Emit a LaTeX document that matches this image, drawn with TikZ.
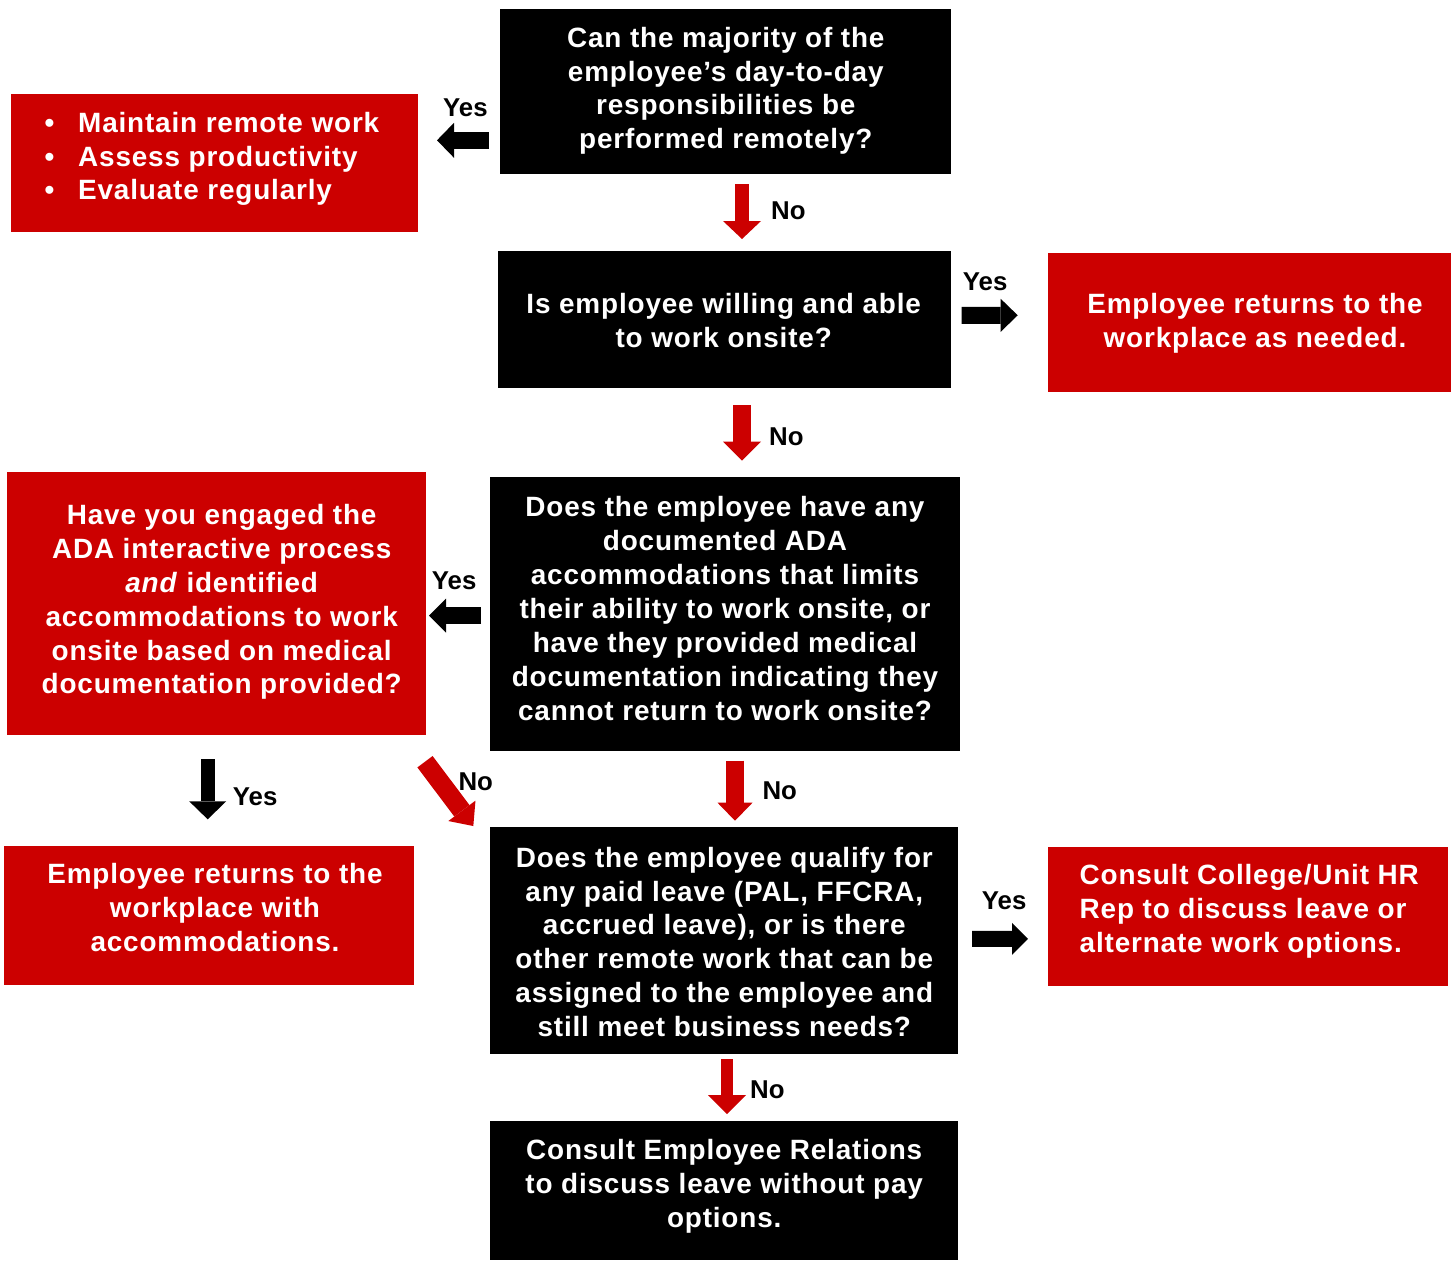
\documentclass[tikz,border=0pt]{standalone}
\usepackage{fontspec}
\setmainfont{Liberation Sans}
\newfontfamily\boxfont[LetterSpace=3.0]{Liberation Sans}
\usetikzlibrary{arrows.meta,calc}
\definecolor{ured}{RGB}{204,0,0}
\begin{document}
\begin{tikzpicture}[x=1pt,y=-1pt,
  redbox/.style={rectangle, fill=ured, draw=none, inner sep=0pt, outer sep=0pt},
  blackbox/.style={rectangle, fill=black, draw=none, inner sep=0pt, outer sep=0pt},
  boxtext/.style={text=white, inner sep=0pt, align=center, anchor=north,
    font=\boxfont\bfseries\fontsize{27.9}{33.9}\selectfont},
  lefttext/.style={boxtext, align=left, anchor=north west},
  lbl/.style={inner sep=0pt, anchor=base west, text=black,
    font=\bfseries\fontsize{25.8}{30}\selectfont},
  rarrow/.style n args={3}{color=ured, line width=#1,
    -{Triangle[width=#2,length=#3,line width=0pt]}},
  karrow/.style n args={3}{color=black, line width=#1,
    -{Triangle[width=#2,length=#3,line width=0pt]}}]
\useasboundingbox (0,0) rectangle (1453,1261);

% boxes
\node[blackbox, minimum width=451pt, minimum height=165.5pt] (A) at (725.5,91.25) {};
\node[redbox, minimum width=406.5pt, minimum height=137.5pt] (B) at (214.25,162.75) {};
\node[blackbox, minimum width=452.7pt, minimum height=137.3pt] (C) at (724.65,319.65) {};
\node[redbox, minimum width=403.3pt, minimum height=139pt] (D) at (1249.35,322.2) {};
\node[blackbox, minimum width=469.5pt, minimum height=273.7pt] (E) at (724.75,614.15) {};
\node[redbox, minimum width=419pt, minimum height=262.7pt] (F) at (216.5,603.65) {};
\node[redbox, minimum width=410pt, minimum height=139pt] (G) at (209,915.5) {};
\node[blackbox, minimum width=468.3pt, minimum height=227.3pt] (H) at (724.15,940.65) {};
\node[redbox, minimum width=399.8pt, minimum height=139pt] (I) at (1247.6,916.2) {};
\node[blackbox, minimum width=468.3pt, minimum height=139pt] (J) at (724.15,1190.5) {};

% box texts
\node[boxtext] (At) at (725.8,26.7) {Can the majority of the\\employee’s day-to-day\\responsibilities be\\performed remotely?};
\node[lefttext] (Bt) at (44.5,111.7) {\makebox[33.5pt][l]{•}Maintain remote work\\\makebox[33.5pt][l]{•}Assess productivity\\\makebox[33.5pt][l]{•}Evaluate regularly};
\node[boxtext] (Ct) at (723.7,293.3) {Is employee willing and able\\to work onsite?};
\node[boxtext] (Dt) at (1255,293.3) {Employee returns to the\\workplace as needed.};
\node[boxtext] (Et) at (725,496.3) {Does the employee have any\\documented ADA\\accommodations that limits\\their ability to work onsite, or\\have they provided medical\\documentation indicating they\\cannot return to work onsite?};
\node[boxtext] (Ft) at (221.7,504) {Have you engaged the\\ADA interactive process\\\textit{and} identified\\accommodations to work\\onsite based on medical\\documentation provided?};
\node[boxtext] (Gt) at (215,863.3) {Employee returns to the\\workplace with\\accommodations.};
\node[boxtext] (Ht) at (724.3,846.7) {Does the employee qualify for\\any paid leave (PAL, FFCRA,\\accrued leave), or is there\\other remote work that can be\\assigned to the employee and\\still meet business needs?};
\node[lefttext] (It) at (1079.5,864.3) {Consult College/Unit HR\\Rep to discuss leave or\\alternate work options.};
\node[boxtext] (Jt) at (724.2,1139) {Consult Employee Relations\\to discuss leave without pay\\options.};

% block arrows
\draw[karrow={17pt}{35pt}{17pt}] ($(A.west)+(-11,49.05)$) -- ($(B.east)+(19.5,-22.45)$);
\draw[rarrow={14pt}{38pt}{18pt}] ($(A.south)+(16.5,10)$) -- ($(C.north)+(17.35,-12)$);
\draw[karrow={17pt}{33pt}{17pt}] ($(C.east)+(10.7,-4.35)$) -- ($(D.west)+(-30,-6.9)$);
\draw[rarrow={18pt}{38pt}{19pt}] ($(C.south)+(17.35,16.7)$) -- ($(E.north)+(17.25,-16.6)$);
\draw[karrow={17.5pt}{34pt}{17pt}] ($(E.west)+(-9,1.35)$) -- ($(F.east)+(3,11.85)$);
\draw[karrow={14pt}{37pt}{18pt}] ($(F.south)+(-8.8,24)$) -- ($(G.north)+(-1.3,-26.7)$);
\draw[rarrow={19pt}{34pt}{19pt}] ($(F.south east)+(-1,26.7)$) -- ($(H.north west)+(-16.7,-1)$);
\draw[rarrow={18pt}{35pt}{18pt}] ($(E.south)+(10.25,9.7)$) -- ($(H.north)+(10.85,-6.3)$);
\draw[karrow={16pt}{32pt}{16pt}] ($(H.east)+(13.7,-1.85)$) -- ($(I.west)+(-19.7,22.6)$);
\draw[rarrow={12pt}{38pt}{19pt}] ($(H.south)+(2.85,4.7)$) -- ($(J.north)+(2.85,-7)$);

% labels
\node[lbl] (y1) at (443,116.7) {Yes};
\node[lbl] (n1) at (771,219.3) {No};
\node[lbl] (y2) at (962.7,290.7) {Yes};
\node[lbl] (n2) at (769,445.7) {No};
\node[lbl] (y3) at (431.7,589) {Yes};
\node[lbl] (y4) at (232.7,805) {Yes};
\node[lbl] (n3) at (458.3,790) {No};
\node[lbl] (n4) at (762.3,799) {No};
\node[lbl] (y5) at (981.7,909) {Yes};
\node[lbl] (n5) at (750,1098.3) {No};
\end{tikzpicture}
\end{document}
